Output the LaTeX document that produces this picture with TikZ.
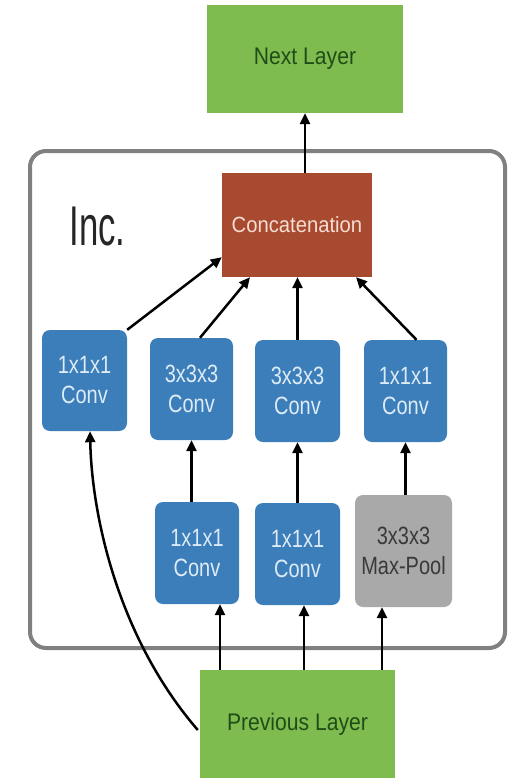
\documentclass[tikz,border=0pt]{standalone}
\usepackage{fontspec}
\setmainfont{Liberation Sans}
\newfontfamily\boxfont{Liberation Sans}[FakeStretch=0.8]
\newfontfamily\layerfont{Liberation Sans}[FakeStretch=0.88]
\newfontfamily\catfont{Liberation Sans}[FakeStretch=0.92]
\newfontfamily\incfont{Liberation Sans}[FakeStretch=0.62]
\usetikzlibrary{arrows.meta,calc}

\definecolor{convblue}{HTML}{3C7EB9}
\definecolor{convtext}{HTML}{DDEBF7}
\definecolor{layergreen}{HTML}{7FBC4F}
\definecolor{layertext}{HTML}{1F4D17}
\definecolor{catred}{HTML}{A84A30}
\definecolor{cattext}{HTML}{F6DCD2}
\definecolor{poolgray}{HTML}{A9A9A9}
\definecolor{pooltext}{HTML}{3A3A3A}
\definecolor{framegray}{HTML}{808080}

\tikzset{
  layerbox/.style={fill=layergreen, draw=none, text=layertext,
    font=\layerfont\fontsize{24}{28}\selectfont, inner sep=0pt},
  catbox/.style={fill=catred, draw=none, text=cattext,
    font=\catfont\fontsize{22}{26}\selectfont, inner sep=0pt},
  convbox/.style={fill=convblue, draw=none, text=convtext, rounded corners=8pt,
    align=center, font=\boxfont\fontsize{25}{30}\selectfont, inner sep=0pt},
  poolbox/.style={convbox, fill=poolgray, text=pooltext},
  frame/.style={draw=framegray, line width=4pt, rounded corners=16pt},
  arr/.style={draw=black, line width=2.5pt, -{Triangle[length=11pt,width=10pt]}},
}

\begin{document}
\begin{tikzpicture}[x=1pt, y=-1pt]
  \useasboundingbox (0,0) rectangle (513,779);

  % inception module frame
  \draw[frame] (30,151) rectangle (505,648);
  \node[anchor=base west, font=\incfont\fontsize{56}{60}\selectfont, text=black!85] (inc) at (66,245) {Inc.};

  % layers outside the module
  \node[layerbox, minimum width=196pt, minimum height=108pt] (next) at (305,59) {Next Layer};
  \node[layerbox, minimum width=195pt, minimum height=108pt] (prev) at (297.5,724) {Previous Layer};

  % concatenation
  \node[catbox, minimum width=150pt, minimum height=104pt] (concat) at (297,225) {Concatenation};

  % upper row of convolutions
  \node[convbox, minimum width=85pt, minimum height=101pt] (b1) at (84.5,380.5) {1x1x1\\Conv};
  \node[convbox, minimum width=83pt, minimum height=102pt] (b2) at (191.5,389) {3x3x3\\Conv};
  \node[convbox, minimum width=85pt, minimum height=102pt] (b3) at (297.5,391) {3x3x3\\Conv};
  \node[convbox, minimum width=83pt, minimum height=102pt] (b4) at (405.5,391) {1x1x1\\Conv};

  % lower row
  \node[convbox, minimum width=84pt, minimum height=102pt] (b5) at (197,553) {1x1x1\\Conv};
  \node[convbox, minimum width=85pt, minimum height=102pt] (b6) at (297.5,554) {1x1x1\\Conv};
  \node[poolbox, minimum width=97pt, minimum height=112pt] (pool) at (403.5,551) {3x3x3\\Max-Pool};

  % connections
  \draw[arr] (concat.north -| next.south) -- (next.south);
  \draw[arr] (b1.north east) -- ($(concat.south west)+(0,-20)$);
  \draw[arr] ($(b2.north)+(8.5,0)$) -- ($(concat.south)+(-47,0)$);
  \draw[arr] (b3.north) -- (b3.north |- concat.south);
  \draw[arr] ($(b4.north)+(11,0)$) -- ($(concat.south)+(59,0)$);

  \draw[arr] (b5.north -| b2.south) -- (b2.south);
  \draw[arr] (b6.north) -- (b3.south);
  \draw[arr] (pool.north -| b4.south) -- (b4.south);

  \draw[arr] ($(prev.north)+(-77.5,0)$) -- ($(b5.south)+(23,0)$);
  \draw[arr] ($(prev.north)+(6.5,0)$) -- ($(b6.south)+(6.5,0)$);
  \draw[arr] ($(prev.north)+(84.5,0)$) -- ($(pool.south)+(-21.5,0)$);

  \draw[arr] ($(prev.west)+(-2,6)$) .. controls (120,640) and (92,520) .. ($(b1.south)+(5.5,0)$);
\end{tikzpicture}
\end{document}
